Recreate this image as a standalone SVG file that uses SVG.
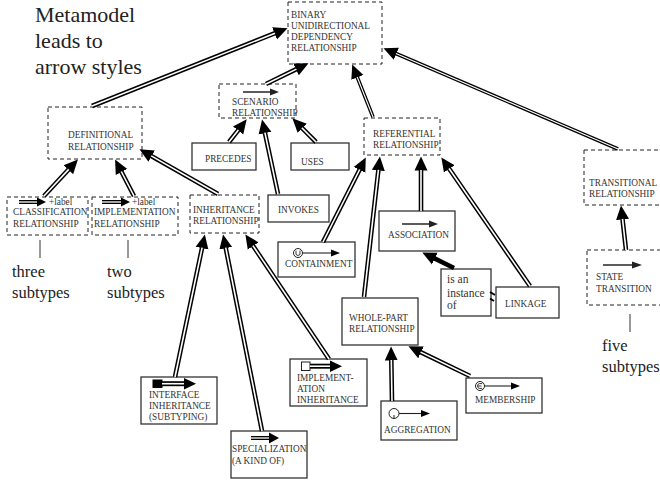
<svg xmlns="http://www.w3.org/2000/svg" width="660" height="480" viewBox="0 0 660 480">
  <style>
    text { font-family: 'Liberation Serif', 'Times New Roman', Tinos, 'DejaVu Serif', serif; }
    .dash { fill: none; stroke: #222; stroke-width: 1; stroke-dasharray: 4 3; }
    .solid { fill: none; stroke: #333; stroke-width: 1.3; }
    .t { font-size: 9.3px; fill: #333; }
    .big { font-size: 22px; fill: #222; }
    .mid { font-size: 16.5px; fill: #222; }
    .o { fill: none; stroke: #000; stroke-width: 4.6; marker-end: url(#ah); }
    .o2 { fill: none; stroke: #000; stroke-width: 3.6; marker-end: url(#ah); }
    .i { fill: none; stroke: #fff; stroke-width: 1.6; }
    .i2 { fill: none; stroke: #fff; stroke-width: 1.1; }
    .thin { fill: none; stroke: #333; stroke-width: 1.6; }
    .tick { fill: none; stroke: #333; stroke-width: 1; }
    .ico { fill: none; stroke: #000; stroke-width: 4; }
    .icw { fill: none; stroke: #fff; stroke-width: 1.3; }
  </style>
  <defs>
    <marker id="ah" markerUnits="userSpaceOnUse" markerWidth="15" markerHeight="15" viewBox="0 -7.5 15 15" refX="0.5" refY="0" orient="auto">
      <path d="M0,-6.5 L14,0 L0,6.5 Z" fill="#000"/>
    </marker>
  </defs>

  <!-- free captions -->
  <g id="caption" font-family="Liberation Serif, serif">
    <text class="big" x="35" y="22">Metamodel</text>
    <text class="big" x="35" y="48">leads to</text>
    <text class="big" x="35" y="74">arrow styles</text>
  </g>
  <g id="note-three">
    <line class="tick" x1="40" y1="240" x2="40" y2="258"/>
    <text class="mid" x="12" y="277">three</text>
    <text class="mid" x="12" y="298">subtypes</text>
  </g>
  <g id="note-two">
    <line class="tick" x1="128" y1="240" x2="128" y2="258"/>
    <text class="mid" x="107" y="277">two</text>
    <text class="mid" x="107" y="298">subtypes</text>
  </g>
  <g id="note-five">
    <line class="tick" x1="630" y1="314" x2="630" y2="332"/>
    <text class="mid" x="602" y="351">five</text>
    <text class="mid" x="602" y="372">subtypes</text>
  </g>

  <!-- nodes -->
  <g id="binary">
    <rect class="dash" x="288" y="2" width="94" height="62"/>
    <text class="t" x="291" y="18">BINARY</text>
    <text class="t" x="291" y="29">UNIDIRECTIONAL</text>
    <text class="t" x="291" y="40">DEPENDENCY</text>
    <text class="t" x="291" y="51">RELATIONSHIP</text>
  </g>
  <g id="definitional">
    <rect class="dash" x="48" y="107" width="94" height="52"/>
    <text class="t" x="68" y="138">DEFINITIONAL</text>
    <text class="t" x="68" y="150">RELATIONSHIP</text>
  </g>
  <g id="scenario">
    <rect class="dash" x="219" y="84" width="77" height="34"/>
    <line class="thin" x1="243" y1="92" x2="271" y2="92"/>
    <path d="M270,88.5 L279,92 L270,95.5 Z" fill="#222"/>
    <text class="t" x="232" y="105">SCENARIO</text>
    <text class="t" x="232" y="116">RELATIONSHIP</text>
  </g>
  <g id="precedes">
    <rect class="solid" x="192" y="143" width="64" height="27"/>
    <text class="t" x="205" y="162">PRECEDES</text>
  </g>
  <g id="uses">
    <rect class="solid" x="291" y="143" width="58" height="27"/>
    <text class="t" x="301" y="165">USES</text>
  </g>
  <g id="invokes">
    <rect class="solid" x="268" y="195" width="61" height="27"/>
    <text class="t" x="278" y="213">INVOKES</text>
  </g>
  <g id="classification">
    <rect class="dash" x="7" y="197" width="81" height="38"/>
    <line class="ico" x1="19" y1="202" x2="38" y2="202"/>
    <line class="icw" x1="19" y1="202" x2="38" y2="202"/>
    <path d="M37,197.5 L46,202 L37,206.5 Z" fill="#000"/>
    <text class="t" x="49" y="205">+label</text>
    <text class="t" x="13" y="215">CLASSIFICATION</text>
    <text class="t" x="13" y="227">RELATIONSHIP</text>
  </g>
  <g id="implementation">
    <rect class="dash" x="92" y="197" width="86" height="38"/>
    <line class="ico" x1="102" y1="202" x2="122" y2="202"/>
    <line class="icw" x1="102" y1="202" x2="122" y2="202"/>
    <path d="M121,197.5 L130,202 L121,206.5 Z" fill="#000"/>
    <text class="t" x="132" y="205">+label</text>
    <text class="t" x="94" y="215">IMPLEMENTATION</text>
    <text class="t" x="94" y="227">RELATIONSHIP</text>
  </g>
  <g id="inheritance">
    <rect class="dash" x="190" y="195" width="69" height="38"/>
    <text class="t" x="193" y="213">INHERITANCE</text>
    <text class="t" x="193" y="224">RELATIONSHIP</text>
  </g>
  <g id="referential">
    <rect class="dash" x="364" y="118" width="76" height="37"/>
    <text class="t" x="373" y="137">REFERENTIAL</text>
    <text class="t" x="373" y="148">RELATIONSHIP</text>
  </g>
  <g id="transitional">
    <rect class="dash" x="584" y="150" width="80" height="55"/>
    <text class="t" x="589" y="186">TRANSITIONAL</text>
    <text class="t" x="589" y="197">RELATIONSHIP</text>
  </g>
  <g id="association">
    <rect class="solid" x="379" y="211" width="76" height="40"/>
    <line class="thin" x1="402" y1="224" x2="430" y2="224"/>
    <path d="M429,220.5 L438,224 L429,227.5 Z" fill="#222"/>
    <text class="t" x="388" y="238">ASSOCIATION</text>
  </g>
  <g id="containment">
    <rect class="solid" x="278" y="242" width="77" height="35"/>
    <circle cx="298" cy="253" r="4.5" fill="#fff" stroke="#222" stroke-width="1"/>
    <path d="M296,250.5 V254.5 Q298,256.5 300,254.5 V250.5" fill="none" stroke="#222" stroke-width="0.9"/>
    <line x1="302.5" y1="253" x2="332" y2="253" stroke="#222" stroke-width="1.1"/>
    <path d="M331,249.5 L340,253 L331,256.5 Z" fill="#000"/>
    <text class="t" x="285" y="267">CONTAINMENT</text>
  </g>
  <g id="instance-of">
    <rect class="solid" x="441" y="269" width="50" height="47"/>
    <text class="t" x="447" y="283" style="font-size:11.5px">is an</text>
    <text class="t" x="447" y="297" style="font-size:11.5px">instance</text>
    <text class="t" x="447" y="309" style="font-size:11.5px">of</text>
  </g>
  <g id="linkage">
    <rect class="solid" x="496" y="287" width="63" height="31"/>
    <text class="t" x="505" y="307">LINKAGE</text>
  </g>
  <g id="whole-part">
    <rect class="solid" x="342" y="298" width="76" height="47"/>
    <text class="t" x="349" y="321">WHOLE-PART</text>
    <text class="t" x="349" y="332">RELATIONSHIP</text>
  </g>
  <g id="state-transition">
    <rect class="dash" x="587" y="250" width="77" height="55"/>
    <line class="thin" x1="603" y1="265" x2="633" y2="265"/>
    <path d="M632,261.5 L642,265 L632,268.5 Z" fill="#222"/>
    <text class="t" x="596" y="280">STATE</text>
    <text class="t" x="596" y="292">TRANSITION</text>
  </g>
  <g id="interface-inheritance">
    <rect class="solid" x="141" y="377" width="76" height="47"/>
    <rect x="152.5" y="379.5" width="10" height="8.5" fill="#000"/>
    <line x1="162" y1="383.7" x2="185" y2="383.7" stroke="#000" stroke-width="5"/>
    <line x1="162" y1="383.7" x2="185" y2="383.7" stroke="#fff" stroke-width="1.6"/>
    <path d="M184,378 L196,383.7 L184,389.4 Z" fill="#000"/>
    <text class="t" x="149" y="398">INTERFACE</text>
    <text class="t" x="149" y="409">INHERITANCE</text>
    <text class="t" x="149" y="420">(SUBTYPING)</text>
  </g>
  <g id="specialization">
    <rect class="solid" x="231" y="431" width="76" height="47"/>
    <line class="ico" x1="251" y1="438" x2="270" y2="438"/>
    <line class="icw" x1="251" y1="438" x2="270" y2="438"/>
    <path d="M269,432.5 L279,438 L269,443.5 Z" fill="#000"/>
    <text class="t" x="232" y="452">SPECIALIZATION</text>
    <text class="t" x="232" y="464">(A KIND OF)</text>
  </g>
  <g id="implementation-inheritance">
    <rect class="solid" x="290" y="359" width="77" height="47"/>
    <rect x="301.5" y="362" width="8.5" height="8.5" fill="#fff" stroke="#222" stroke-width="1"/>
    <line x1="310" y1="366.2" x2="331" y2="366.2" stroke="#000" stroke-width="5"/>
    <line x1="310" y1="366.2" x2="331" y2="366.2" stroke="#fff" stroke-width="1.6"/>
    <path d="M330,360.5 L342,366.2 L330,371.9 Z" fill="#000"/>
    <text class="t" x="297" y="381">IMPLEMENT-</text>
    <text class="t" x="297" y="392">ATION</text>
    <text class="t" x="297" y="403">INHERITANCE</text>
  </g>
  <g id="aggregation">
    <rect class="solid" x="381" y="401" width="76" height="39"/>
    <circle cx="394" cy="413.5" r="5" fill="#fff" stroke="#222" stroke-width="1"/>
    <line x1="394" y1="415" x2="394" y2="418.5" stroke="#222" stroke-width="1"/>
    <line x1="399" y1="413.5" x2="422" y2="413.5" stroke="#222" stroke-width="1.1"/>
    <path d="M421,410 L430,413.5 L421,417 Z" fill="#000"/>
    <text class="t" x="384" y="433">AGGREGATION</text>
  </g>
  <g id="membership">
    <rect class="solid" x="466" y="378" width="76" height="35"/>
    <circle cx="480" cy="386" r="4.5" fill="#fff" stroke="#222" stroke-width="1"/>
    <path d="M482.2,383.6 H479.5 Q477.6,383.6 477.6,386 Q477.6,388.4 479.5,388.4 H482.2 M477.6,386 H481.5" fill="none" stroke="#222" stroke-width="0.9"/>
    <line x1="484.5" y1="386" x2="512" y2="386" stroke="#222" stroke-width="1.1"/>
    <path d="M511,382.5 L520,386 L511,389.5 Z" fill="#000"/>
    <text class="t" x="475" y="403">MEMBERSHIP</text>
  </g>

  <!-- connectors: double-line generalisation arrows -->
  <g id="connectors">
    <path class="o" d="M92,106 L275,33.2"/><path class="i" d="M92,106 L275,33.2"/>
    <path class="o" d="M266,84 L296.4,69.1"/><path class="i" d="M266,84 L296.4,69.1"/>
    <path class="o2" d="M373,117 L357.2,77"/><path class="i2" d="M373,117 L357.2,77"/>
    <path class="o2" d="M618,149 L395.9,53.5"/><path class="i2" d="M618,149 L395.9,53.5"/>
    <path class="o" d="M229,142 L238.4,130"/><path class="i" d="M229,142 L238.4,130"/>
    <path class="o" d="M278,194 L264.9,132.7"/><path class="i" d="M278,194 L264.9,132.7"/>
    <path class="o" d="M316,142 L301.9,127.9"/><path class="i" d="M316,142 L301.9,127.9"/>
    <path class="o" d="M44,196 L68.7,169.4"/><path class="i" d="M44,196 L68.7,169.4"/>
    <path class="o" d="M134,196 L121.3,171.5"/><path class="i" d="M134,196 L121.3,171.5"/>
    <path class="o" d="M218,194 L151.2,155.9"/><path class="i" d="M218,194 L151.2,155.9"/>
    <path class="o" d="M175,377 L202.1,247.7"/><path class="i" d="M175,377 L202.1,247.7"/>
    <path class="o" d="M262,431 L225.7,247.7"/><path class="i" d="M262,431 L225.7,247.7"/>
    <path class="o" d="M329,359 L252.9,245.6"/><path class="i" d="M329,359 L252.9,245.6"/>
    <path class="o" d="M323,242 L359.7,169.5"/><path class="i" d="M323,242 L359.7,169.5"/>
    <path class="o" d="M364,297 L378.4,169.9"/><path class="i" d="M364,297 L378.4,169.9"/>
    <path class="o" d="M421,211 L421,170"/><path class="i" d="M421,211 L421,170"/>
    <path class="o" d="M530,286 L449,168.5"/><path class="i" d="M530,286 L449,168.5"/>
    <path class="o" d="M454,268 L434.4,258.4"/>
    <path class="o" d="M392,401 L391.3,360"/><path class="i" d="M392,401 L391.3,360"/>
    <path class="o" d="M470,376 L420.6,352.1"/><path class="i" d="M470,376 L420.6,352.1"/>
    <path class="o" d="M626,250 L622.5,218.9"/><path class="i" d="M626,250 L622.5,218.9"/>
    <path d="M490,292 L495,295 M490,298.5 L494,301" fill="none" stroke="#000" stroke-width="2"/>
  </g>
</svg>
